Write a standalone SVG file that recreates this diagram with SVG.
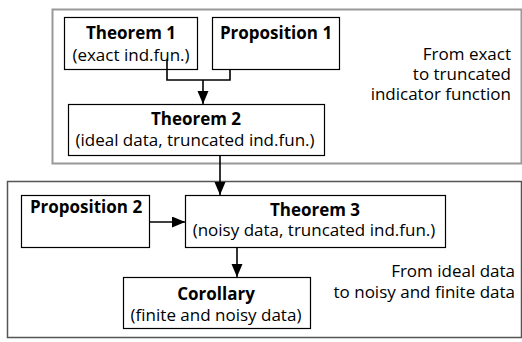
<svg xmlns="http://www.w3.org/2000/svg" width="522" height="342" viewBox="0 0 522 342">
<defs>
<marker id="ah" markerWidth="12" markerHeight="12" refX="13" refY="5.5" orient="auto" markerUnits="userSpaceOnUse">
<path d="M0,0 L13,5.5 L0,11 Z" fill="#000"/>
</marker>
<style>
.box{fill:#fff;stroke:#000;stroke-width:1.2}
.t{font-family:"Open Sans","Noto Sans",sans-serif;font-size:17px;fill:#000;text-anchor:middle}
.b{font-weight:bold}
.r{text-anchor:end}
.c{fill:none;stroke:#000;stroke-width:1.6}
</style>
</defs>
<rect x="52.5" y="9.5" width="469" height="154" fill="#fff" stroke="#999" stroke-width="2"/>
<rect x="7.5" y="181.5" width="514" height="156" fill="#fff" stroke="#555" stroke-width="1.5"/>
<text class="t r" x="511" y="60">From exact</text>
<text class="t r" x="511" y="80">to truncated</text>
<text class="t r" x="511" y="100">indicator function</text>
<text class="t r" x="515" y="277">From ideal data</text>
<text class="t r" x="515" y="298">to noisy and finite data</text>
<g id="theorem1">
<rect class="box" x="64.5" y="17.5" width="133" height="52"/>
<text class="t b" x="131" y="38.5">Theorem 1</text>
<text class="t" x="131" y="60.5">(exact ind.fun.)</text>
</g>
<g id="proposition1">
<rect class="box" x="212.5" y="17.5" width="127" height="52"/>
<text class="t b" x="276" y="38.5">Proposition 1</text>
</g>
<g id="theorem2">
<rect class="box" x="68.5" y="104.5" width="256" height="51"/>
<text class="t b" x="196" y="125">Theorem 2</text>
<text class="t" x="195" y="145.5">(ideal data, truncated ind.fun.)</text>
</g>
<g id="proposition2">
<rect class="box" x="21.5" y="195.5" width="128" height="52"/>
<text class="t b" x="86" y="213">Proposition 2</text>
</g>
<g id="theorem3">
<rect class="box" x="185.5" y="195.5" width="260" height="52"/>
<text class="t b" x="315" y="215.5">Theorem 3</text>
<text class="t" x="314" y="236">(noisy data, truncated ind.fun.)</text>
</g>
<g id="corollary">
<rect class="box" x="123.5" y="277.5" width="187" height="51"/>
<text class="t b" x="216" y="300">Corollary</text>
<text class="t" x="216" y="321">(finite and noisy data)</text>
</g>
<g id="connectors">
<polyline class="c" points="167,60 167,80 230,80 230,69"/>
<line class="c" x1="203" y1="80" x2="203" y2="104" marker-end="url(#ah)"/>
<line class="c" x1="220" y1="156" x2="220" y2="195" marker-end="url(#ah)"/>
<line class="c" x1="150" y1="222" x2="185" y2="222" marker-end="url(#ah)"/>
<line class="c" x1="237" y1="248" x2="237" y2="277" marker-end="url(#ah)"/>
</g>
</svg>
